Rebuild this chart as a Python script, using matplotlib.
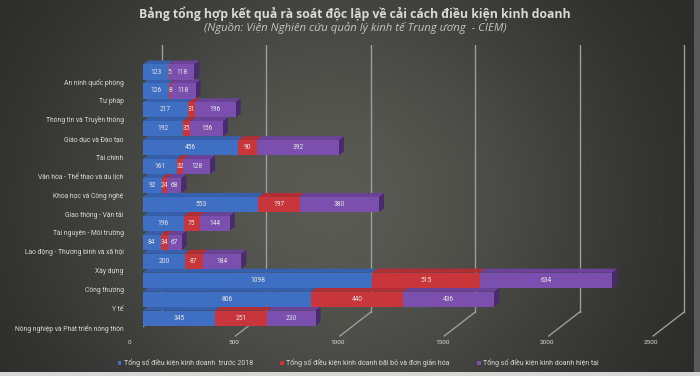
import numpy as np
import matplotlib.pyplot as plt
from matplotlib.patches import Polygon
from matplotlib.transforms import blended_transform_factory

plt.rcParams['font.family'] = ['Roboto', 'DejaVu Sans']

# data (top to bottom)
categories = [
    'An ninh quốc phòng',
    'Tư pháp',
    'Thông tin và Truyền thông',
    'Giáo dục và Đào tạo',
    'Tài chính',
    'Văn hóa - Thể thao và du lịch',
    'Khoa học và Công nghệ',
    'Giao thông - Vận tải',
    'Tài nguyên - Môi trường',
    'Lao động - Thương binh và xã hội',
    'Xây dựng',
    'Công thương',
    'Y tế',
    'Nông nghiệp và Phát triển nông thôn',
]
before_2018 = [123, 126, 217, 192, 456, 161, 92, 553, 196, 84, 200, 1098, 806, 345]
abolished = [5, 8, 31, 35, 90, 32, 24, 197, 75, 34, 87, 515, 440, 251]
current = [118, 118, 196, 156, 392, 128, 68, 380, 144, 67, 184, 634, 436, 230]
series_names = [
    'Tổng số điều kiện kinh doanh  trước 2018',
    'Tổng số điều kiện kinh doanh bãi bỏ và đơn giản hóa',
    'Tổng số điều kiện kinh doanh hiện tại',
]
xticks = [0, 500, 1000, 1500, 2000, 2500]

front_colors = ['#3f6fc2', '#c8363c', '#7a4fae']
top_colors = ['#3660ad', '#b02e34', '#6a4399']
side_colors = ['#24457f', '#80202a', '#4a2a6e']
txt_col = '#d8d8d8'

W, H = 700, 376
fig = plt.figure(figsize=(7, 3.76), dpi=100)

# background gradient
bg = fig.add_axes([0, 0, 1, 1])
yy, xx = np.mgrid[0:H, 0:W]
d = ((xx - 330) / 360.0) ** 2 + ((yy - 200) / 330.0) ** 2
t = np.exp(-d * 1.5)
dark = np.array([36, 37, 36]) / 255.0
light = np.array([90, 90, 84]) / 255.0
img = dark + (light - dark) * t[..., None]
img[:, 694:] = np.array([88, 88, 88]) / 255.0
img[372:, :] = np.array([215, 215, 215]) / 255.0
bg.imshow(img, aspect='auto', extent=[0, 1, 0, 1])
bg.axis('off')

# plot area: x = 0 at px 143, 0.2088 px per unit
ax = fig.add_axes([143 / W, 1 - 337 / H, 543 / W, 292 / H])
ax.patch.set_alpha(0)
ax.set_xlim(0, 2600)
ax.set_ylim(14.0, -1.43)
for s in ax.spines.values():
    s.set_visible(False)
ax.set_xticks([])

ux = 2600 / 543.0          # data units per pixel (x)
uy = 15.43 / 292.0         # data units per pixel (y)
y = np.arange(len(categories))
h = 0.8
dx, dy = 5 * ux, 4 * uy

# perspective grid: back wall lines and floor diagonals
tr = blended_transform_factory(ax.transData, ax.transAxes)
y_floor_back = 25 / 292.0
y_floor_front = 1 / 292.0
for v in xticks:
    xb = v + 19 * ux
    xf = v - 12 * ux
    ax.plot([xb, xb], [y_floor_back, 1.0], transform=tr, color='#9c9c9c', lw=1.0, zorder=1)
    ax.plot([xb, xf], [y_floor_back, y_floor_front], transform=tr, color='#9c9c9c', lw=1.0, zorder=1)
    ax.text(v - 14 * ux, -5 / 292.0, str(v), transform=tr, ha='center', va='center',
            fontsize=4.6, color=txt_col)

series = [before_2018, abolished, current]
lefts = np.zeros(len(categories))
handles = []
for k, vals in enumerate(series):
    vals = np.array(vals, dtype=float)
    b = ax.barh(y, vals, left=lefts, height=h, color=front_colors[k], zorder=4,
                label=series_names[k])
    handles.append(b)
    for i in range(len(y)):
        l, w = lefts[i], vals[i]
        yt = y[i] - h / 2
        ax.add_patch(Polygon([(l, yt), (l + w, yt), (l + w + dx, yt - dy), (l + dx, yt - dy)],
                             closed=True, facecolor=top_colors[k], edgecolor='none', zorder=3))
        if k == len(series) - 1:
            r = l + w
            ax.add_patch(Polygon([(r, yt), (r + dx, yt - dy), (r + dx, yt + h - dy), (r, yt + h)],
                                 closed=True, facecolor=side_colors[k], edgecolor='none', zorder=3))
        ax.text(l + w / 2, y[i], str(int(vals[i])), ha='center', va='center',
                fontsize=4.8, color='#e6e6e6', zorder=5)
    lefts = lefts + vals

# category labels sit a half step below each bar
ax.set_yticks(y + 0.5)
ax.set_yticklabels(categories, fontsize=4.9, color=txt_col)
ax.tick_params(axis='y', length=0, pad=14)

fig.text(0.507, 0.963, 'Bảng tổng hợp kết quả rà soát độc lập về cải cách điều kiện kinh doanh',
         ha='center', va='center', fontsize=8.8, fontweight='bold', color='#d8d8d8',
         family=['Open Sans', 'DejaVu Sans'])
fig.text(0.508, 0.925, '(Nguồn: Viện Nghiên cứu quản lý kinh tế Trung ương  - CIEM)',
         ha='center', va='center', fontsize=8.2, style='italic', color='#c4c4c4',
         family=['Open Sans', 'DejaVu Sans'])

fig.legend(handles=handles, loc='center left', bbox_to_anchor=(118 / W, 1 - 363 / H),
           ncol=3, frameon=False, fontsize=5, labelcolor=txt_col, handlelength=0.5,
           handleheight=0.5, handletextpad=0.3, columnspacing=4.0, borderpad=0,
           borderaxespad=0)

fig.savefig('out.png', dpi=100)
